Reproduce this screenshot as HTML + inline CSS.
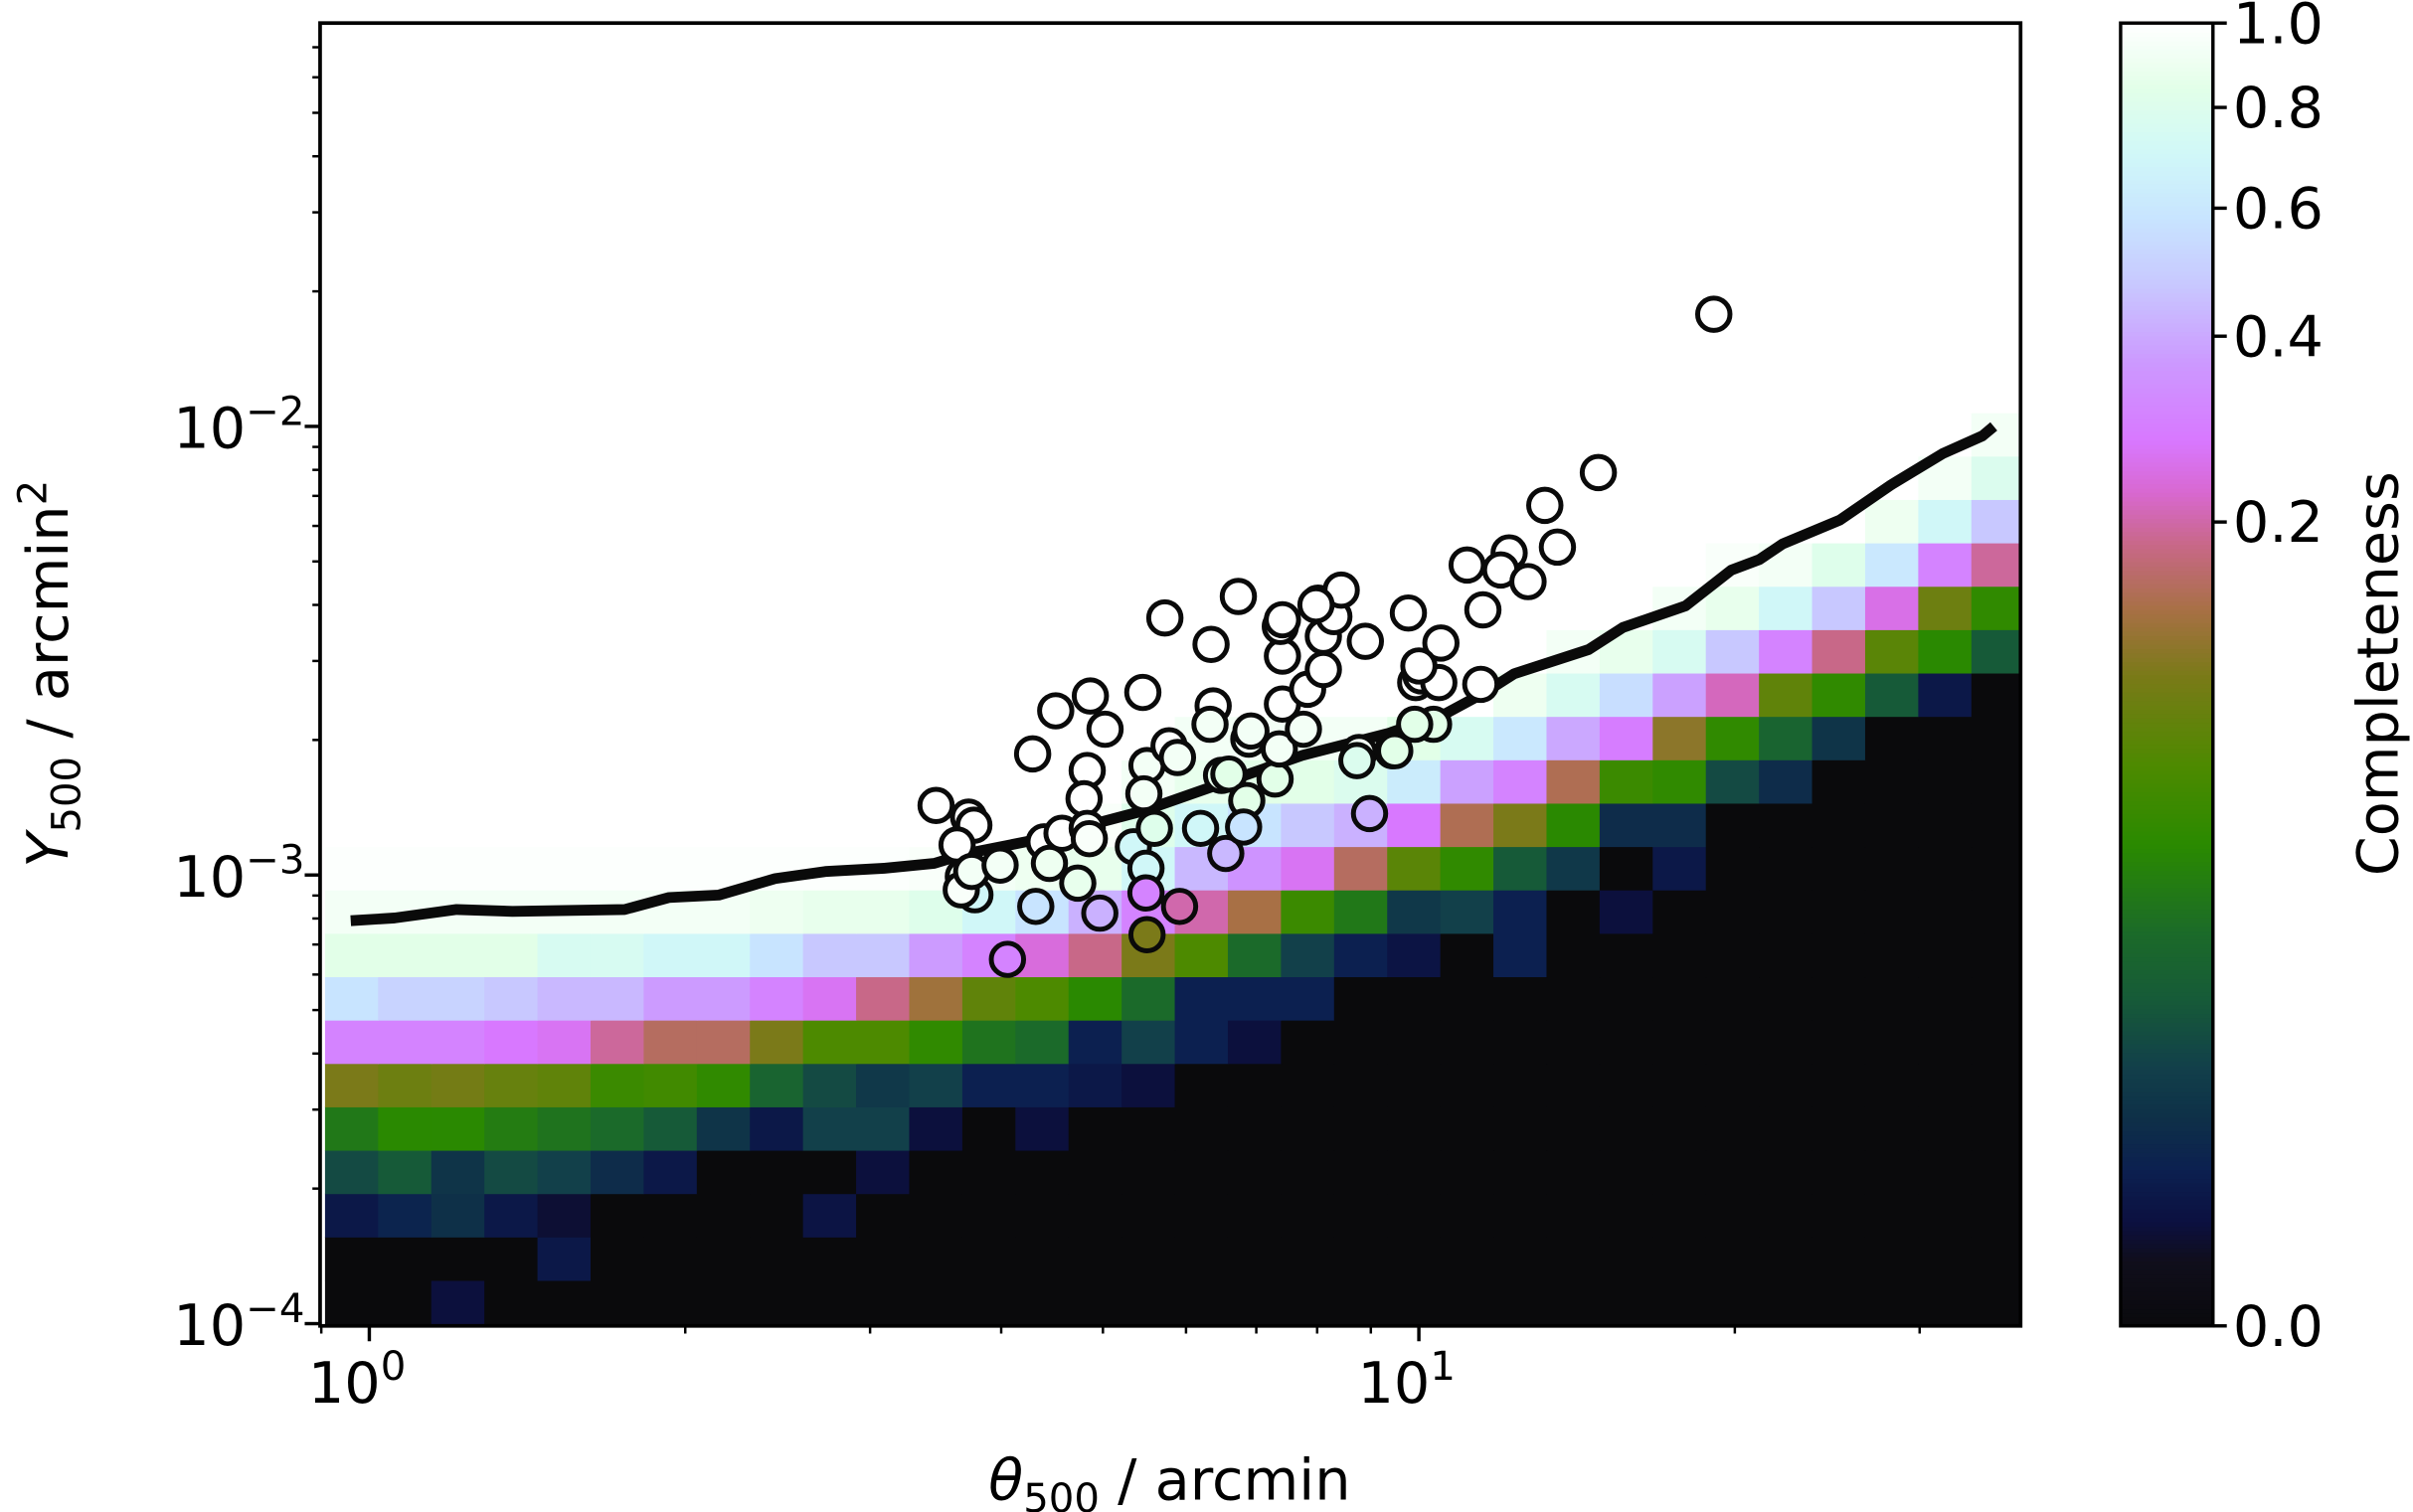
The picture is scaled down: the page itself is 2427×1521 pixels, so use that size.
<!DOCTYPE html>
<html><head><meta charset="utf-8"><style>
html,body{margin:0;padding:0;background:#fff;}
svg{display:block;}
text{font-family:"DejaVu Sans","Liberation Sans",sans-serif;fill:#000;}
</style></head><body>
<svg id="chart" width="2427" height="1521" viewBox="0 0 1568 983" preserveAspectRatio="none" xmlns="http://www.w3.org/2000/svg">
<g id="heat"></g>
<g id="ticks"></g>
<g id="lineG"></g>
<g id="pts"></g>
<rect x="208" y="15" width="1105" height="847" fill="none" stroke="#000" stroke-width="2.4"/>
<g id="cbar"></g>
<text x="760" y="975" font-size="37" text-anchor="middle"><tspan font-style="italic">θ</tspan><tspan font-size="26" dy="8">500</tspan><tspan dy="-8"> / arcmin</tspan></text>
<text transform="translate(44,438) rotate(-90)" font-size="37" text-anchor="middle"><tspan font-style="italic">Y</tspan><tspan font-size="26" dy="8">500</tspan><tspan dy="-8"> / arcmin</tspan><tspan font-size="26" dy="-14">2</tspan></text>
<text transform="translate(1558,438) rotate(-90)" font-size="37" text-anchor="middle">Completeness</text>
</svg>
<script>
// ---- data ----
const xLogRange = [-0.0469, 1.5733];
const yLogRange = [-4.005, -1.101];
const thetaBinLogStart = -0.0422;
const thetaBinLogWidth = 0.0506;
const yBinLogStart = -4.0;
const yBinLogWidth = 0.0967;
// completeness grid: rows from bottom (Y500 bin 0) to top, 32 theta bins each
const completeness = [
[0,0,.0002,0,0,0,0,0,0,0,0,0,0,0,0,0,0,0,0,0,0,0,0,0,0,0,0,0,0,0,0,0],
[0,0,0,0,.00046,0,0,0,0,0,0,0,0,0,0,0,0,0,0,0,0,0,0,0,0,0,0,0,0,0,0,0],
[.00046,.0011,.0022,.00046,.00014,0,0,0,0,.00033,0,0,0,0,0,0,0,0,0,0,0,0,0,0,0,0,0,0,0,0,0,0],
[.0064,.0099,.0027,.0064,.0047,.0018,.00046,0,0,0,.0002,0,0,0,0,0,0,0,0,0,0,0,0,0,0,0,0,0,0,0,0,0],
[.0248,.036,.036,.0274,.0224,.018,.0099,.0027,.00046,.0047,.0047,.0002,0,.0002,0,0,0,0,0,0,0,0,0,0,0,0,0,0,0,0,0,0],
[.1,.086,.093,.081,.075,.047,.051,.0397,.0144,.0064,.0033,.0047,.00085,.00085,.00046,.0002,0,0,0,0,0,0,0,0,0,0,0,0,0,0,0,0],
[.305,.305,.305,.277,.263,.193,.154,.154,.1,.06,.06,.0397,.0224,.018,.00085,.0047,.00085,.0002,0,0,0,0,0,0,0,0,0,0,0,0,0,0],
[.58,.516,.516,.476,.437,.437,.37,.37,.305,.263,.182,.128,.075,.06,.036,.018,.00085,.00085,.00085,0,0,0,0,0,0,0,0,0,0,0,0,0],
[.843,.843,.843,.843,.757,.757,.70,.70,.58,.476,.476,.37,.305,.238,.182,.1,.06,.018,.0047,.00085,.00033,0,.00085,0,0,0,0,0,0,0,0,0],
[.935,.935,.935,.935,.935,.935,.935,.935,.903,.873,.873,.814,.70,.58,.419,.305,.203,.136,.047,.0248,.0033,.0047,.00085,0,.0002,0,0,0,0,0,0,0],
[.983,.983,.983,.983,.983,.983,.983,.983,.983,.983,.983,.967,.935,.903,.873,.70,.437,.35,.263,.154,.07,.0397,.0099,.0033,0,.00046,0,0,0,0,0,0],
[1,1,1,1,1,1,1,1,1,1,1,1,1,1,.967,.814,.70,.58,.476,.419,.277,.145,.1,.036,.0018,.0018,0,0,0,0,0,0],
[1,1,1,1,1,1,1,1,1,1,1,1,1,1,1,.935,.873,.843,.843,.785,.629,.383,.305,.145,.047,.0397,.0064,.0018,0,0,0,0],
[1,1,1,1,1,1,1,1,1,1,1,1,1,1,1,1,.935,.935,.935,.935,.843,.757,.605,.40,.29,.113,.0397,.0144,.0027,0,0,0],
[1,1,1,1,1,1,1,1,1,1,1,1,1,1,1,1,1,1,1,1,1,1,.903,.757,.559,.383,.214,.075,.0397,.0099,.00046,0],
[1,1,1,1,1,1,1,1,1,1,1,1,1,1,1,1,1,1,1,1,1,1,1,.935,.873,.757,.476,.305,.182,.07,.036,.0099],
[1,1,1,1,1,1,1,1,1,1,1,1,1,1,1,1,1,1,1,1,1,1,1,1,1,.935,.873,.70,.476,.25,.086,.0397],
[1,1,1,1,1,1,1,1,1,1,1,1,1,1,1,1,1,1,1,1,1,1,1,1,1,1,.967,.935,.814,.605,.305,.193],
[1,1,1,1,1,1,1,1,1,1,1,1,1,1,1,1,1,1,1,1,1,1,1,1,1,1,1,1,1,.903,.70,.476],
[1,1,1,1,1,1,1,1,1,1,1,1,1,1,1,1,1,1,1,1,1,1,1,1,1,1,1,1,1,1,.935,.785],
[1,1,1,1,1,1,1,1,1,1,1,1,1,1,1,1,1,1,1,1,1,1,1,1,1,1,1,1,1,1,1,.935],
[1,1,1,1,1,1,1,1,1,1,1,1,1,1,1,1,1,1,1,1,1,1,1,1,1,1,1,1,1,1,1,1],
[1,1,1,1,1,1,1,1,1,1,1,1,1,1,1,1,1,1,1,1,1,1,1,1,1,1,1,1,1,1,1,1],
[1,1,1,1,1,1,1,1,1,1,1,1,1,1,1,1,1,1,1,1,1,1,1,1,1,1,1,1,1,1,1,1],
[1,1,1,1,1,1,1,1,1,1,1,1,1,1,1,1,1,1,1,1,1,1,1,1,1,1,1,1,1,1,1,1],
[1,1,1,1,1,1,1,1,1,1,1,1,1,1,1,1,1,1,1,1,1,1,1,1,1,1,1,1,1,1,1,1],
[1,1,1,1,1,1,1,1,1,1,1,1,1,1,1,1,1,1,1,1,1,1,1,1,1,1,1,1,1,1,1,1],
[1,1,1,1,1,1,1,1,1,1,1,1,1,1,1,1,1,1,1,1,1,1,1,1,1,1,1,1,1,1,1,1],
[1,1,1,1,1,1,1,1,1,1,1,1,1,1,1,1,1,1,1,1,1,1,1,1,1,1,1,1,1,1,1,1],
[1,1,1,1,1,1,1,1,1,1,1,1,1,1,1,1,1,1,1,1,1,1,1,1,1,1,1,1,1,1,1,1]
];
// selection line (theta500 arcmin, Y500 arcmin^2)
const lineTheta = [0.96,1.057,1.211,1.369,1.751,1.93,2.153,2.436,2.719,3.094,3.454,3.71,4.22,5.46,6.19,7.76,9.36,10.61,11.58,12.33,14.51,15.64,17.95,19.84,21.12,22.21,25.17,28.18,31.54,34.43,35.3];
const lineY = [7.91e-4,8.02e-4,8.38e-4,8.3e-4,8.38e-4,8.91e-4,9.02e-4,9.82e-4,1.018e-3,1.035e-3,1.062e-3,1.117e-3,1.186e-3,1.39e-3,1.54e-3,1.85e-3,2.07e-3,2.29e-3,2.56e-3,2.81e-3,3.18e-3,3.56e-3,3.98e-3,4.78e-3,5.05e-3,5.47e-3,6.18e-3,7.41e-3,8.69e-3,9.52e-3,1.0e-2];
// clusters: log10 theta500, log10 Y500
const clusterLogTheta = [0.540,0.571,0.576,0.560,0.566,0.577,0.564,0.574,0.601,0.608,0.632,0.635,0.643,0.648,0.654,0.660,0.675,0.687,0.684,0.681,0.684,0.686,0.696,0.701,0.737,0.741,0.738,0.728,0.740,0.740,0.741,0.748,0.762,0.770,0.772,0.758,0.792,0.802,0.804,0.801,0.812,0.819,0.816,0.828,0.836,0.833,0.838,0.840,0.863,0.867,0.870,0.870,0.868,0.870,0.890,0.894,0.909,0.909,0.904,0.919,0.926,0.943,0.949,0.953,0.975,0.990,0.997,1.002,1.019,1.014,1.021,1.046,1.061,1.059,1.281,1.171,1.120,1.132,1.086,1.078,1.104,0.902,1.000,0.996,0.941,0.977];
const clusterLogY = [-2.845,-2.871,-2.889,-2.933,-3.003,-3.044,-3.033,-2.992,-2.978,-3.188,-2.730,-3.070,-2.926,-2.974,-2.634,-2.907,-3.018,-2.601,-2.767,-2.830,-2.896,-2.919,-3.085,-2.675,-2.593,-2.756,-2.819,-2.937,-2.985,-3.040,-3.133,-2.896,-2.712,-2.738,-3.070,-2.427,-2.896,-2.486,-2.623,-2.664,-2.778,-2.775,-2.952,-2.379,-2.834,-2.893,-2.697,-2.679,-2.786,-2.719,-2.619,-2.512,-2.446,-2.431,-2.675,-2.586,-2.542,-2.468,-2.394,-2.424,-2.365,-2.727,-2.479,-2.863,-2.723,-2.416,-2.571,-2.556,-2.571,-2.664,-2.483,-2.309,-2.409,-2.575,-1.750,-2.103,-2.176,-2.269,-2.282,-2.320,-2.346,-2.398,-2.534,-2.664,-2.745,-2.723];
const cbarTicks = [0, 0.2, 0.4, 0.6, 0.8, 1.0];
const cbarTickLabels = ["0.0","0.2","0.4","0.6","0.8","1.0"];
const xMajor = [0, 1];
const xMajorLabels = ["0","1"];
const yMajor = [-4, -3, -2];
const yMajorLabels = ["−4","−3","−2"];

// ---- colormap (sampled from the reference colour bar) ----
const cmapStops = [[0,'#0a0a0c'],[.05,'#100e1c'],[.08,'#0c1040'],[.12,'#0c2050'],[.16,'#0e3048'],[.2,'#12404a'],[.25,'#165a38'],[.3,'#1b6a2a'],[.37,'#2a8a00'],[.43,'#4d8a00'],[.5,'#7a7a18'],[.55,'#a87045'],[.6,'#c86888'],[.64,'#d868d0'],[.68,'#d878ff'],[.74,'#cc99ff'],[.8,'#c8c8ff'],[.85,'#c8e4ff'],[.9,'#d0f8f8'],[.95,'#e2ffe8'],[1,'#ffffff']];
function hex(h){return [parseInt(h.slice(1,3),16),parseInt(h.slice(3,5),16),parseInt(h.slice(5,7),16)];}
function cubehelix(p){
  p=Math.max(0,Math.min(1,p));
  for(let i=1;i<cmapStops.length;i++){
    if(p<=cmapStops[i][0]){
      const [p0,c0]=cmapStops[i-1],[p1,c1]=cmapStops[i];
      const t=(p-p0)/(p1-p0), a=hex(c0), b=hex(c1);
      return `rgb(${a.map((v,k)=>Math.round(v+(b[k]-v)*t)).join(',')})`;
    }
  }
  return '#ffffff';
}

// ---- scales ----
const PX0=208, PX1=1313, PY0=862, PY1=15;
function sx(lg){return PX0+(lg-xLogRange[0])/(xLogRange[1]-xLogRange[0])*(PX1-PX0);}
function sy(lg){return PY0-(lg-yLogRange[0])/(yLogRange[1]-yLogRange[0])*(PY0-PY1);}
const GAMMA=0.3;
function cmap(v){return cubehelix(Math.pow(Math.max(0,v),GAMMA));}
const NS='http://www.w3.org/2000/svg';
function mk(tag,attrs,parent){const e=document.createElementNS(NS,tag);for(const k in attrs)e.setAttribute(k,attrs[k]);parent.appendChild(e);return e;}

// ---- heatmap ----
const heat=document.getElementById('heat');
const clip=mk('clipPath',{id:'pc'},heat);
mk('rect',{x:PX0,y:PY1,width:PX1-PX0,height:PY0-PY1},clip);
const hg=mk('g',{'clip-path':'url(#pc)'},heat);
completeness.forEach((row,r)=>{
  row.forEach((v,c)=>{
    const x0=sx(thetaBinLogStart+c*thetaBinLogWidth), x1=sx(thetaBinLogStart+(c+1)*thetaBinLogWidth);
    const y0=sy(yBinLogStart+r*yBinLogWidth), y1=sy(yBinLogStart+(r+1)*yBinLogWidth);
    const cell=mk('rect',{x:x0,y:y1,width:x1-x0+0.4,height:y0-y1+0.4,fill:cmap(v)},hg);
    
    
  });
});
function lookup(lt,ly){
  const c=Math.floor((lt-thetaBinLogStart)/thetaBinLogWidth), r=Math.floor((ly-yBinLogStart)/yBinLogWidth);
  if(r<0||r>=completeness.length)return r<0?0:1;
  const row=completeness[r]; if(c<0||c>=row.length)return 1;
  return row[c];
}

// ---- ticks ----
const tk=document.getElementById('ticks');
function xt(lg,len,w){mk('line',{x1:sx(lg),x2:sx(lg),y1:PY0,y2:PY0+len,stroke:'#000','stroke-width':w},tk);}
function yt(lg,len,w){mk('line',{x1:PX0,x2:PX0-len,y1:sy(lg),y2:sy(lg),stroke:'#000','stroke-width':w},tk);}
for(let d=-1;d<=1;d++)for(let m=2;m<=9;m++){const lg=d+Math.log10(m);if(lg>=xLogRange[0]&&lg<=xLogRange[1])xt(lg,5,1.6);}
for(let d=-5;d<=-2;d++)for(let m=2;m<=9;m++){const lg=d+Math.log10(m);if(lg>=yLogRange[0]&&lg<=yLogRange[1])yt(lg,5,1.6);}
xMajor.forEach((lg,i)=>{
  xt(lg,10,2.2);
  const t=mk('text',{x:sx(lg)-8,y:912,'font-size':37,'text-anchor':'middle'},tk);
  
  
  t.innerHTML=`10<tspan font-size="26" dy="-15">${xMajorLabels[i]}</tspan>`;
});
yMajor.forEach((lg,i)=>{
  yt(lg,10,2.2);
  const t=mk('text',{x:198,y:sy(lg)+14,'font-size':37,'text-anchor':'end'},tk);
  
  
  t.innerHTML=`10<tspan font-size="26" dy="-15">${yMajorLabels[i]}</tspan>`;
});

// ---- line ----
const lg=document.getElementById('lineG');
const d=lineTheta.map((t,i)=>(i?'L':'M')+sx(Math.log10(t)).toFixed(1)+','+sy(Math.log10(lineY[i])).toFixed(1)).join(' ');
const path=mk('path',{d:d,fill:'none',stroke:'#0a0a0a','stroke-width':7,'stroke-linejoin':'round'},lg);



// ---- points ----
const pg=document.getElementById('pts');
clusterLogTheta.forEach((lt,i)=>{
  const ly=clusterLogY[i];
  const c=mk('circle',{cx:sx(lt),cy:sy(ly),r:10.5,fill:cmap(lookup(lt,ly)),stroke:'#0a0a0a','stroke-width':3.2},pg);
  
  
});

// ---- colorbar ----
const cb=document.getElementById('cbar');
const CX0=1378, CX1=1438, CY0=862, CY1=15, N=300;
for(let k=0;k<N;k++){
  const p0=k/N, p1=(k+1)/N;
  const y0=CY0-p0*(CY0-CY1), y1=CY0-p1*(CY0-CY1);
  mk('rect',{x:CX0,y:y1,width:CX1-CX0,height:y0-y1+0.5,fill:cubehelix((p0+p1)/2)},cb);
}
mk('rect',{x:CX0,y:CY1,width:CX1-CX0,height:CY0-CY1,fill:'none',stroke:'#000','stroke-width':2.2},cb);
cbarTicks.forEach((v,i)=>{
  const y=CY0-Math.pow(v,GAMMA)*(CY0-CY1);
  mk('line',{x1:CX1,x2:CX1+9,y1:y,y2:y,stroke:'#000','stroke-width':2.2},cb);
  const t=mk('text',{x:1451,y:y+13,'font-size':37},cb);
  
  
  t.textContent=cbarTickLabels[i];
});
</script>
</body></html>
